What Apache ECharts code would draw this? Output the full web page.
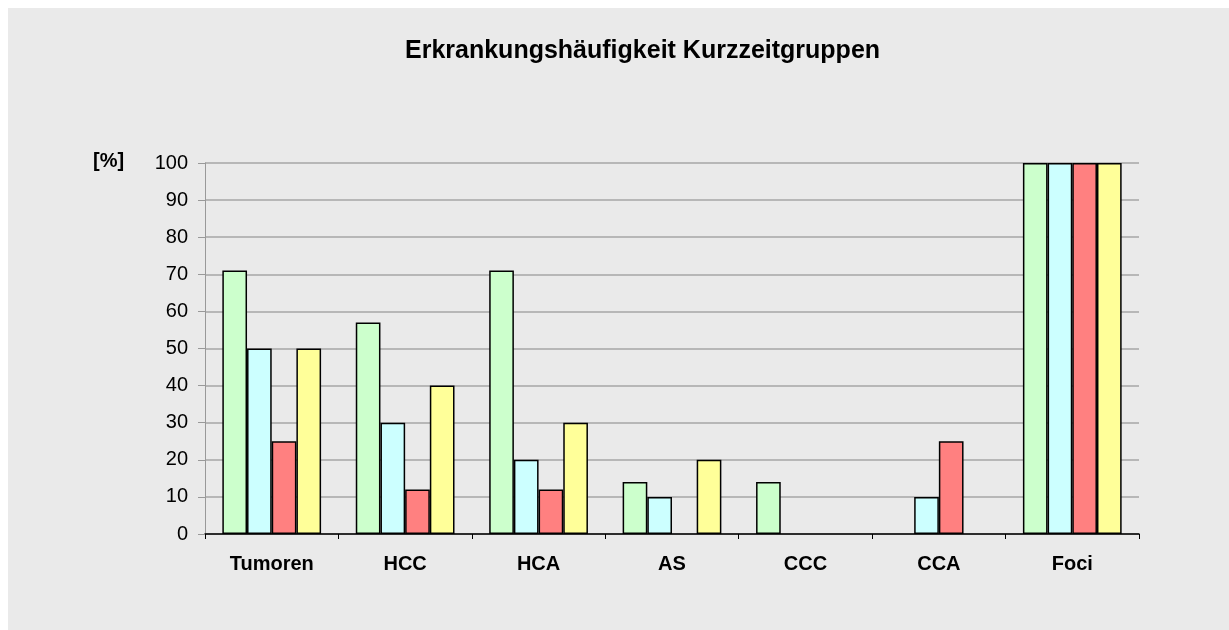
<!DOCTYPE html>
<html>
<head>
<meta charset="utf-8">
<script src="https://cdn.jsdelivr.net/npm/echarts@6/dist/echarts.min.js"></script>
<style>
  html, body { margin: 0; padding: 0; background: #fff; }
  #chart { width: 1229px; height: 630px; }
</style>
</head>
<body>
<div id="chart"></div>
<script>
// data
const categories = ["Tumoren", "HCC", "HCA", "AS", "CCC", "CCA", "Foci"];
const group1 = [71, 57, 71, 14, 14, 0, 100];   // green
const group2 = [50, 30, 20, 10, 0, 10, 100];   // cyan
const group3 = [25, 12, 12, 0, 0, 25, 100];    // red
const group4 = [50, 40, 30, 20, 0, 0, 100];    // yellow
const yTicks = { min: 0, max: 100, interval: 10 };

const colors = ["#ccffcc", "#ccffff", "#ff8080", "#ffff99"];
const font = "'Liberation Sans', Arial, sans-serif";

function barSeries(data, color) {
  return {
    type: "bar",
    // zero bars draw nothing in the original, so drop their outline
    data: data.map(v => v === 0 ? { value: 0, itemStyle: { borderWidth: 0 } } : v),
    barGap: "0%",
    barCategoryGap: "26%",
    itemStyle: { color: color, borderColor: "#000", borderWidth: 1.5 },
  };
}

const chart = echarts.init(document.getElementById("chart"), null, { renderer: "canvas" });
chart.setOption({
  animation: false,
  backgroundColor: "#fff",
  graphic: [{
    type: "rect",
    left: 8, top: 8,
    shape: { width: 1221, height: 622 },
    style: { fill: "#eaeaea" },
    z: -10,
  }],
  title: [
    {
      text: "Erkrankungshäufigkeit Kurzzeitgruppen",
      left: 400, top: 34,
      textStyle: { fontFamily: font, fontWeight: "bold", fontSize: 25, color: "#000" },
    },
    {
      text: "[%]",
      left: 88, top: 146,
      textStyle: { fontFamily: font, fontWeight: "bold", fontSize: 20, color: "#000" },
    },
  ],
  grid: { left: 205, right: 90, top: 163, bottom: 96 },
  xAxis: {
    type: "category",
    data: categories,
    axisLine: { lineStyle: { color: "#000", width: 1.5 } },
    axisTick: { show: true, length: 5, lineStyle: { color: "#000" } },
    axisLabel: {
      margin: 20,
      fontFamily: font, fontWeight: "bold", fontSize: 20, color: "#000",
    },
    splitLine: { show: false },
  },
  yAxis: {
    type: "value",
    min: yTicks.min, max: yTicks.max, interval: yTicks.interval,
    axisLine: { show: true, lineStyle: { color: "#999", width: 1 } },
    axisTick: { show: true, length: 7, lineStyle: { color: "#999" } },
    axisLabel: { margin: 17, fontFamily: font, fontSize: 20, color: "#000" },
    splitLine: { lineStyle: { color: "#a6a6a6", width: 1.5 } },
  },
  series: [
    barSeries(group1, colors[0]),
    barSeries(group2, colors[1]),
    barSeries(group3, colors[2]),
    barSeries(group4, colors[3]),
  ],
});
</script>
</body>
</html>
